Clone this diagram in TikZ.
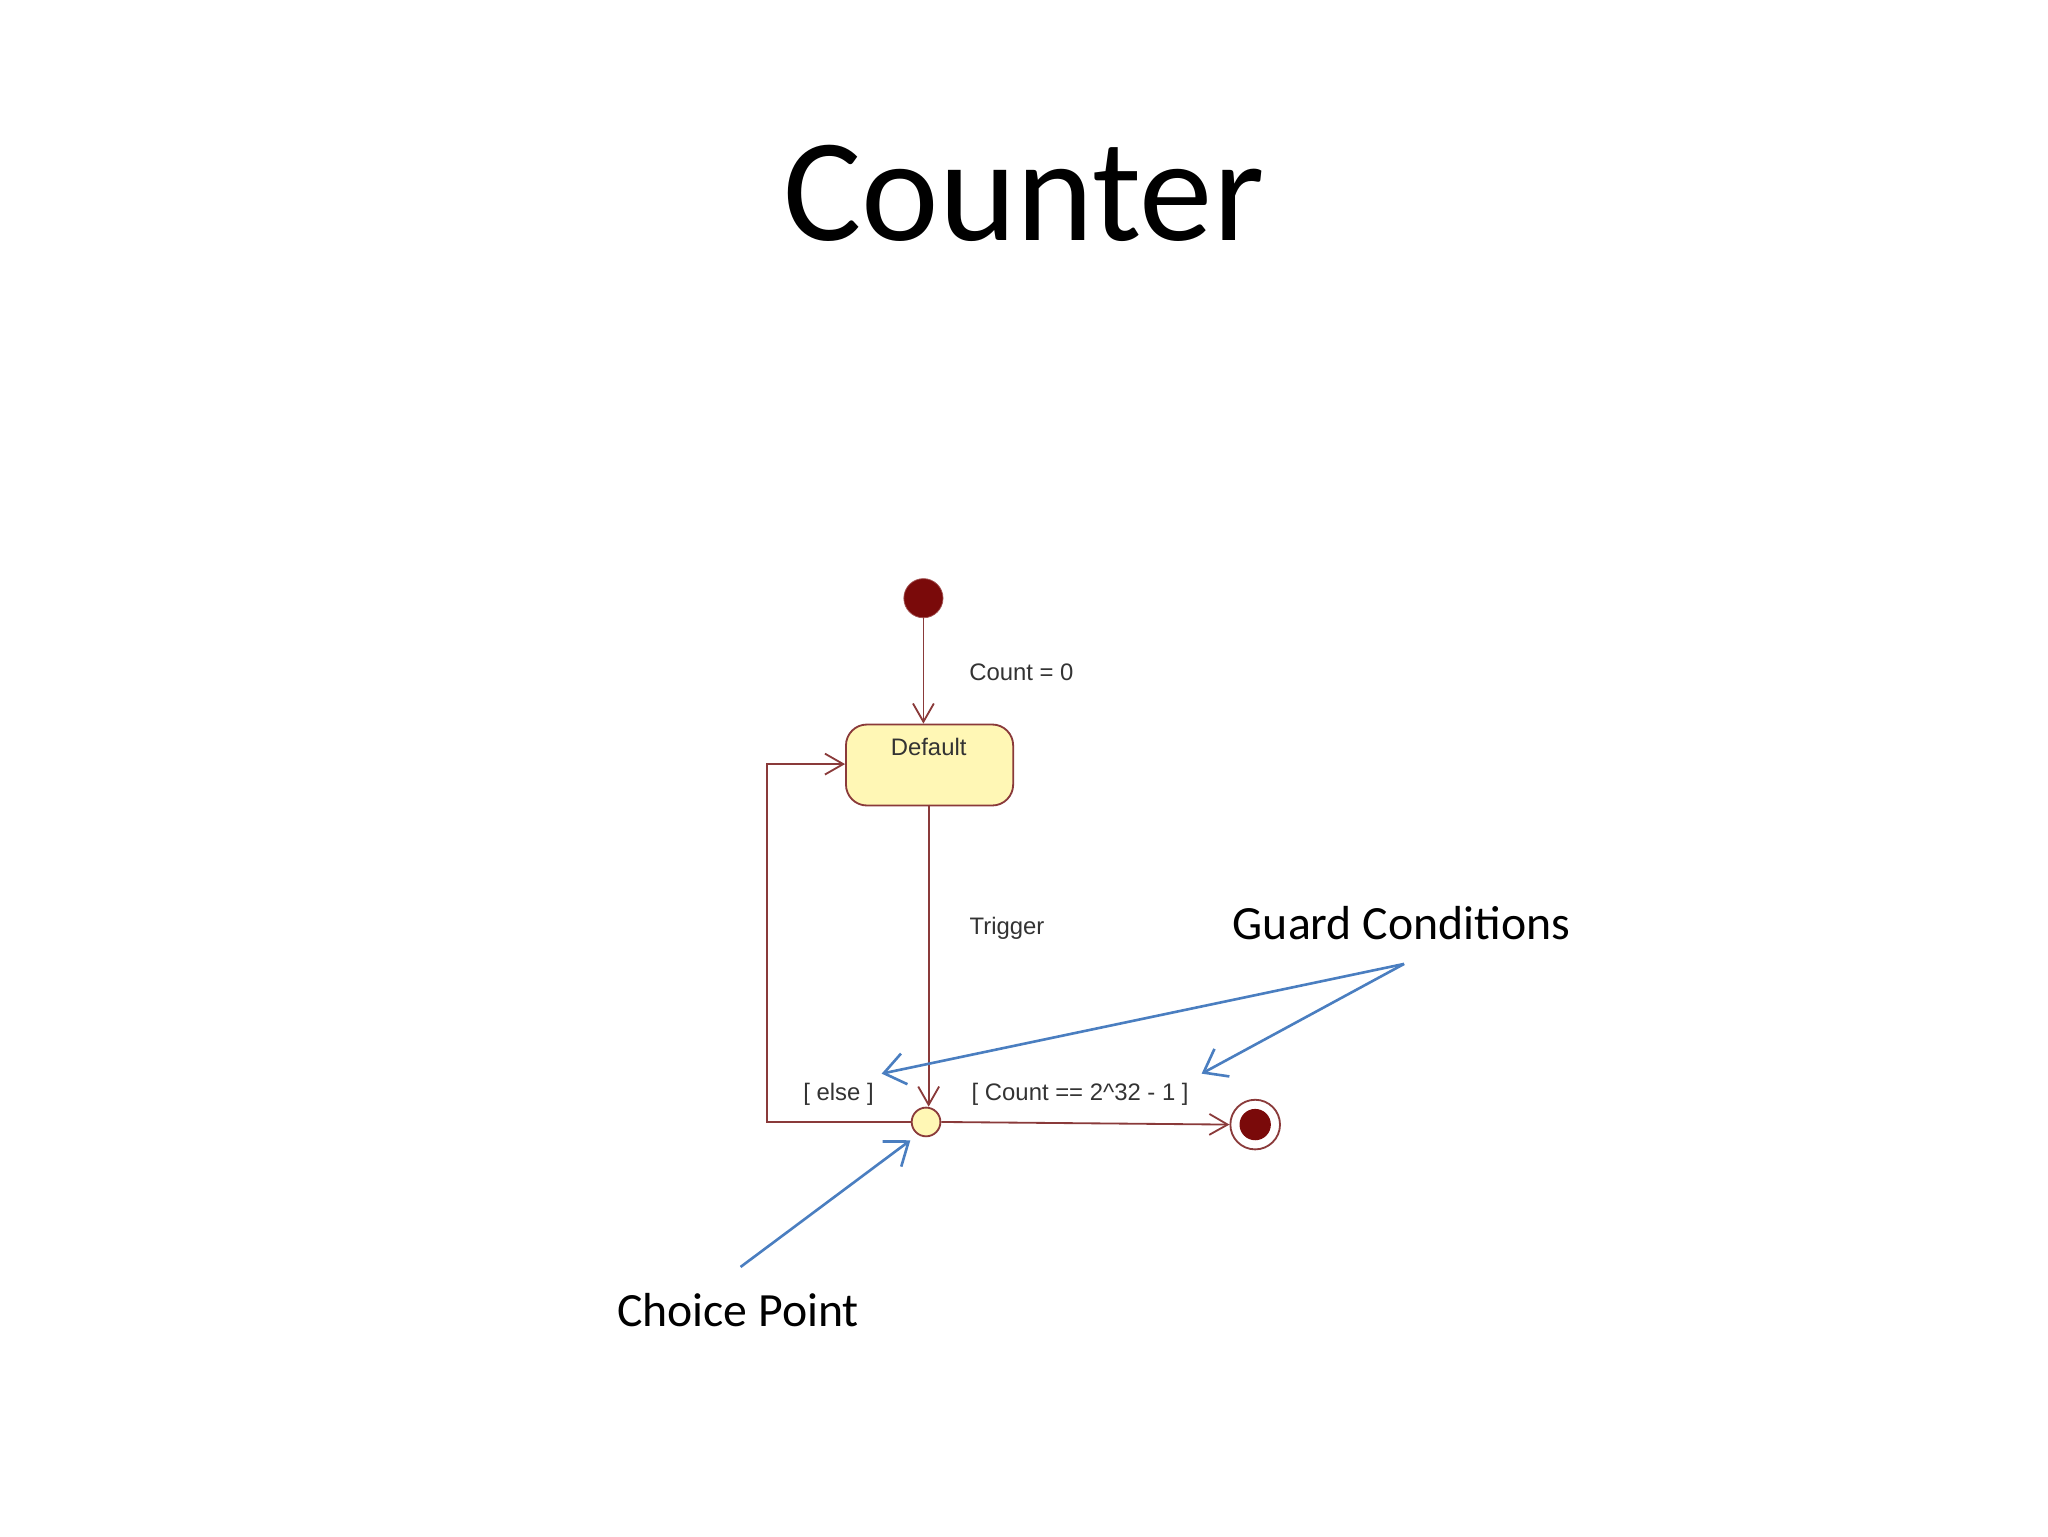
\documentclass[tikz,border=0pt]{standalone}
\usepackage{fontspec}
\setmainfont{Carlito}
\newfontfamily\uml{Liberation Sans}
\usetikzlibrary{arrows.meta}
\definecolor{umlred}{HTML}{7A0A0A}
\definecolor{umlline}{HTML}{8A3A3A}
\definecolor{umlfill}{HTML}{FFF7B5}
\definecolor{callout}{HTML}{4A7EC0}
\begin{document}
\begin{tikzpicture}[x=0.25mm,y=-0.25mm,
  conn/.style={draw=umlline,line width=0.35mm,-{Straight Barb[length=3.5mm,width=4mm]}},
  blu/.style={draw=callout,line width=0.5mm,-{Straight Barb[length=4mm,width=6mm]}},
  lbl/.style={font=\uml\fontsize{13}{15}\selectfont,text=black!80},
  big/.style={font=\fontsize{26}{30}\selectfont}]
\useasboundingbox (0,0) rectangle (1568,1176);
\node[font=\fontsize{80}{90}\selectfont] (title) at (784,148) {Counter};
\node[circle,fill=umlred,draw=umlred!70,minimum size=7.5mm,inner sep=0] (init) at (707,458) {};
\node[draw=umlline,fill=umlfill,rounded corners=4mm,minimum width=32mm,minimum height=15.5mm,line width=0.35mm,anchor=north west] (def) at (647,554) {};
\node[lbl] (deft) at (711,572) {Default};
\node[circle,draw=umlline,fill=umlfill,minimum size=5.5mm,inner sep=0,line width=0.35mm] (ch) at (709,859) {};
\node[circle,draw=umlline,minimum size=9.5mm,inner sep=0,line width=0.35mm] (fin) at (961,861) {};
\node[circle,fill=umlred,minimum size=6mm,inner sep=0] (fini) at (961,861) {};
\draw[conn] (init) -- (init|-def.north);
\node[lbl] (l0) at (782,515) {Count = 0};
\coordinate (dbot) at (711,616);
\draw[conn] (dbot) -- (711,859 |- ch.north);
\node[lbl] (l1) at (771,711) {Trigger};
\coordinate (lc) at (587,859);
\coordinate (lt) at (587,585);
\draw[conn] (ch.west) -- (lc) -- (lt) -- (def.west |- lt);
\draw[conn] (ch.east) -- (fin.west);
\node[lbl] (l2) at (642,838) {[ else ]};
\node[lbl] (l3) at (827,838) {[ Count == 2\^{}32 - 1 ]};
\node[big] (gc) at (1073,707) {Guard Conditions};
\node[big] (cp) at (565,1003) {Choice Point};
\coordinate (gs) at (1075,738);
\coordinate (ge) at (675,822);
\coordinate (gf) at (920,822);
\coordinate (cs) at (567,970);
\coordinate (ce) at (697,873);
\draw[blu] (gs) -- (ge);
\draw[blu] (gs) -- (gf);
\draw[blu] (cs) -- (ce);
\end{tikzpicture}
\end{document}
